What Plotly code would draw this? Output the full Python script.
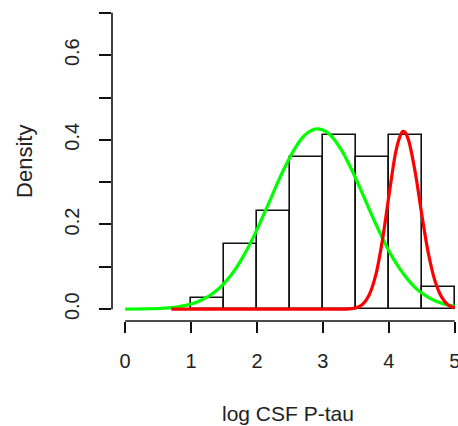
import plotly.graph_objects as go

# Histogram (density scale), bins of width 0.5
bin_centers = [1.25, 1.75, 2.25, 2.75, 3.25, 3.75, 4.25, 4.75]
bin_width = 0.5
hist_density = [0.0256, 0.1538, 0.2308, 0.3590, 0.4103, 0.3590, 0.4103, 0.0513]

# Green curve
green_x = [0.0, 0.2, 0.4, 0.5, 0.6, 0.7, 0.8, 0.9, 1.0, 1.1, 1.2, 1.3, 1.4, 1.5, 1.6, 1.7, 1.8, 1.9,
           2.0, 2.1, 2.2, 2.3, 2.4, 2.5, 2.6, 2.7, 2.8, 2.9, 3.0, 3.1, 3.2, 3.3, 3.4, 3.5, 3.6, 3.7,
           3.8, 3.9, 4.0, 4.1, 4.2, 4.3, 4.4, 4.5, 4.6, 4.7, 4.8, 4.9, 5.0]
green_y = [0.0001, 0.0003, 0.0009, 0.0015, 0.0024, 0.0037, 0.0056, 0.0083, 0.012, 0.0174, 0.025,
           0.034, 0.046, 0.061, 0.079, 0.101, 0.127, 0.156, 0.188, 0.223, 0.258, 0.294, 0.328,
           0.359, 0.386, 0.407, 0.420, 0.426, 0.423, 0.413, 0.395, 0.371, 0.341, 0.308, 0.273,
           0.237, 0.202, 0.169, 0.138, 0.111, 0.088, 0.068, 0.051, 0.038, 0.028, 0.020, 0.014,
           0.0097, 0.0066]

# Red curve
red_x = [0.7, 1.5, 2.5, 3.0, 3.3, 3.4, 3.5, 3.6, 3.7, 3.8, 3.9, 4.0, 4.1, 4.15, 4.2, 4.22, 4.25,
         4.3, 4.4, 4.5, 4.6, 4.7, 4.8, 4.9, 5.0]
red_y = [0.0, 0.0, 0.0, 0.0, 0.0002, 0.0007, 0.003, 0.011, 0.033, 0.079, 0.160, 0.266, 0.367,
         0.399, 0.418, 0.420, 0.417, 0.399, 0.324, 0.224, 0.132, 0.067, 0.029, 0.010, 0.003]

x_ticks = [0, 1, 2, 3, 4, 5]
y_ticks = [0.0, 0.1, 0.2, 0.3, 0.4, 0.5, 0.6, 0.7]
y_ticktext = ["0.0", "", "0.2", "", "0.4", "", "0.6", ""]

font_family = "Liberation Sans, Arial, sans-serif"
txt_color = "#222222"

fig = go.Figure()
fig.add_trace(go.Bar(
    x=bin_centers, y=hist_density, width=[bin_width] * len(bin_centers),
    marker=dict(color="rgba(255,255,255,0)", line=dict(color="#111111", width=1.6)),
    showlegend=False, hoverinfo="skip"))
fig.add_trace(go.Scatter(
    x=green_x, y=green_y, mode="lines", line=dict(color="#00ff00", width=3.2, shape="spline"),
    showlegend=False))
fig.add_trace(go.Scatter(
    x=red_x, y=red_y, mode="lines", line=dict(color="#ff0000", width=3.2, shape="spline"),
    showlegend=False))

# R-style detached axis lines
fig.add_shape(type="line", xref="paper", yref="y", x0=0, x1=0, y0=y_ticks[0], y1=y_ticks[-1],
              line=dict(color="#111111", width=1.6))
fig.add_shape(type="line", xref="x", yref="paper", x0=x_ticks[0], x1=x_ticks[-1], y0=0, y1=0,
              line=dict(color="#111111", width=1.6))

fig.update_layout(
    width=458, height=426, autosize=False,
    margin=dict(l=112, r=0, t=1, b=105),
    paper_bgcolor="white", plot_bgcolor="white",
    font=dict(family=font_family, size=20, color=txt_color),
    bargap=0,
    xaxis=dict(range=[-0.2, 5.05], tickvals=x_ticks, ticktext=[str(v) for v in x_ticks],
               ticks="outside", ticklen=11, tickwidth=1.6, tickcolor="#111111",
               showgrid=False, zeroline=False, showline=False, automargin=False,
               ticklabeloverflow="allow",
               ticklabelstandoff=11, tickfont=dict(size=20, color=txt_color)),
    yaxis=dict(range=[-0.028, 0.728], tickvals=y_ticks, ticktext=y_ticktext,
               ticks="outside", ticklen=12, tickwidth=1.6, tickcolor="#111111",
               showgrid=False, zeroline=False, showline=False, automargin=False,
               tickangle=-90, ticklabelstandoff=12, tickfont=dict(size=20, color=txt_color)),
    annotations=[
        dict(text="log CSF P-tau", xref="paper", yref="paper", x=0.509, y=-0.2875,
             showarrow=False, xanchor="center", yanchor="middle",
             font=dict(size=21, color=txt_color, family=font_family)),
        dict(text="Density", xref="paper", yref="paper", x=-0.2514, y=0.497,
             showarrow=False, xanchor="center", yanchor="middle", textangle=-90,
             font=dict(size=22, color=txt_color, family=font_family)),
    ],
)

fig.write_html(
    "out.html",
    config={"displayModeBar": False},
    post_script="document.body.style.margin='0';document.body.style.padding='0';"
                "document.documentElement.style.overflow='hidden';",
)
